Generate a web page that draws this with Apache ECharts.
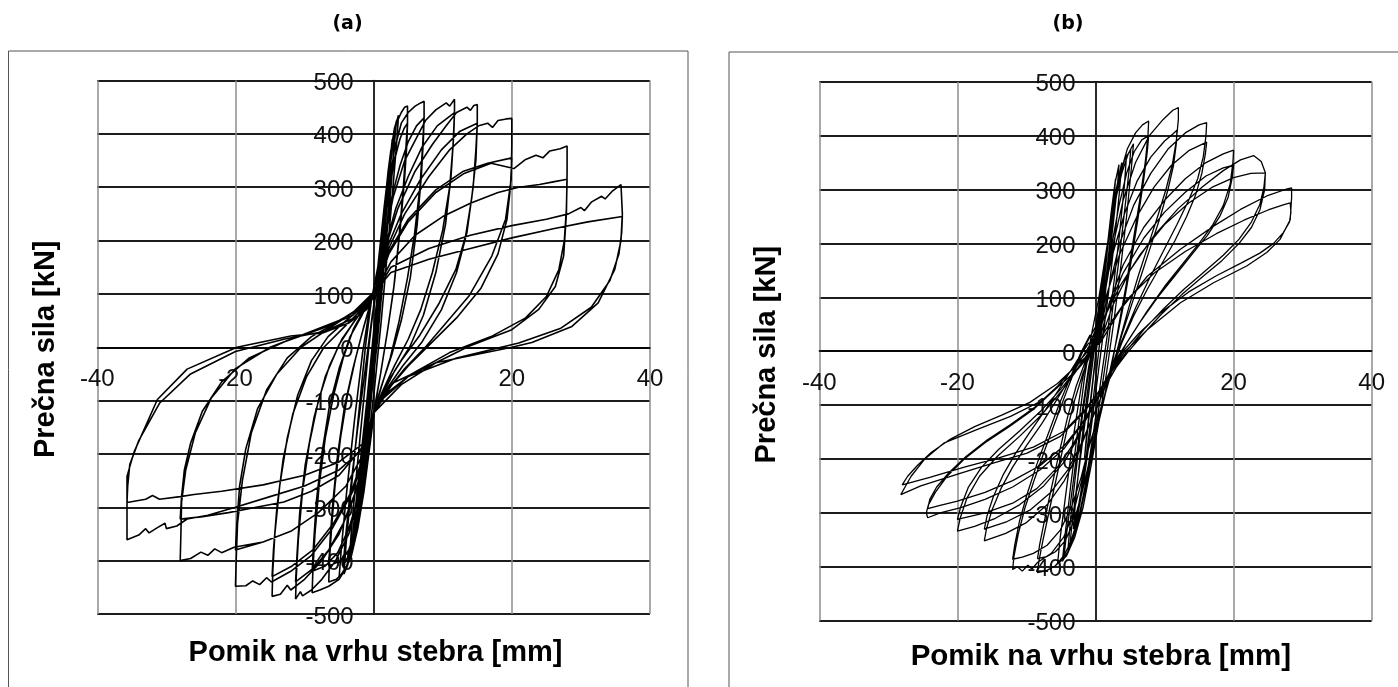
<!DOCTYPE html>
<html>
<head>
<meta charset="utf-8">
<style>html,body{margin:0;padding:0;background:#fff}#c{width:1398px;height:687px}</style>
<script src="https://cdn.jsdelivr.net/npm/echarts@6/dist/echarts.min.js"></script>
</head>
<body>
<div id="c"></div>
<script>
// Axis ranges and tick step (mm, kN)
const xRange = [-40, 40]; const xStep = 20;
const yRange = [-500, 500]; const yStep = 100;
const panelTitles = ['(a)', '(b)'];
const yName = 'Prečna sila [kN]';
const xName = 'Pomik na vrhu stebra [mm]';

// ---------- Panel (a), [displacement mm, force kN] ----------
const a_el = [[0,0],[0.4,60],[0.9,140],[1.3,200],[1.0,150],[0.3,50],[-0.3,-30],[-0.9,-110],[-1.5,-200],[-1.2,-160],[-0.5,-70],[0.1,20],[0.7,110],[1.3,200],[1.9,290],[1.6,240],[0.9,140],[0.2,40],[-0.5,-60],[-1.2,-150],[-2.0,-260],[-2.4,-300],[-2.0,-250],[-1.2,-150],[-0.4,-40],[0.3,60],[1.0,160],[1.7,260],[2.3,340],[2.7,390],[2.4,330],[1.6,220],[0.8,100],[0,-10],[-0.8,-120],[-1.6,-220],[-2.4,-310],[-3.0,-370],[-3.3,-390],[-2.8,-320],[-1.8,-200],[-0.9,-90],[0,30],[0.7,120],[1.5,230],[2.2,320],[2.8,385],[3.3,425],[3.0,380],[2.3,280],[1.5,170],[0.6,50],[-0.3,-70],[-1.2,-180],[-2.1,-280],[-3.0,-350],[-3.8,-395],[-4.4,-410],[-4.1,-360],[-3.3,-260],[-2.3,-150],[-1.2,-40],[-0.2,60],[0.6,120]];
const a_el2 = [[1.2,200],[1.7,280],[2.1,330],[2.5,370],[2.3,320],[1.7,230],[1.0,130],[0.2,10],[-0.6,-100],[-1.4,-200],[-2.1,-280],[-2.7,-340],[-3.2,-380],[-3.5,-395],[-3.2,-340],[-2.5,-240],[-1.6,-120],[-0.7,0],[0.2,100],[1.0,190],[1.8,290],[2.5,360],[3.0,405],[3.2,415],[2.9,360],[2.3,270],[1.5,150],[0.6,20],[-0.3,-90],[-1.2,-200],[-2.1,-300],[-3.0,-370],[-3.8,-410],[-4.3,-425],[-4.0,-370],[-3.2,-260],[-2.2,-130],[-1.2,0],[-0.3,90],[0.6,150],[1.5,260],[2.3,350],[3.0,410],[3.6,435],[3.4,395],[2.8,300],[2.0,180],[1.1,50],[0.1,-80],[-0.9,-190],[-1.9,-290],[-2.9,-360],[-3.9,-410],[-5.0,-432],[-4.7,-380],[-3.9,-270],[-2.8,-140],[-1.6,-10],[-0.5,80],[0.5,120]];
const a_05 = [[1.4,220],[2.2,320],[2.8,380],[3.3,420],[4.0,440],[4.5,450],[4.9,452],[4.9,420],[4.7,380],[4.3,300],[3.7,210],[2.9,110],[2.0,30],[1.0,-50],[0.2,-110],[-0.6,-190],[-1.4,-270],[-2.3,-340],[-3.2,-390],[-4.2,-420],[-5.4,-435],[-6.5,-440],[-6.4,-400],[-6.1,-340],[-5.6,-260],[-4.8,-170],[-3.8,-90],[-2.6,-20],[-1.4,40],[-0.3,90],[0.5,120],[1.3,200],[2.2,290],[3.0,350],[3.8,390],[4.4,410],[4.9,420],[4.8,380],[4.5,320],[3.9,230],[3.0,120],[2.0,30],[1.0,-50],[0.1,-115],[-0.8,-200],[-1.7,-280],[-2.6,-340],[-3.6,-380],[-4.8,-400],[-6.5,-410],[-6.3,-360],[-5.9,-290],[-5.2,-200],[-4.2,-110],[-3.0,-40],[-1.6,30],[-0.4,85],[0.5,115]];
const a_07 = [[1.3,200],[2.2,300],[3.0,370],[4.0,420],[5.0,440],[6.0,452],[6.8,458],[7.3,461],[7.3,430],[7.1,380],[6.7,300],[5.9,210],[4.9,130],[3.7,50],[2.4,-20],[1.1,-75],[0,-125],[-0.9,-210],[-1.8,-290],[-2.8,-360],[-3.8,-410],[-5.0,-435],[-6.5,-448],[-7.8,-455],[-8.9,-460],[-8.8,-420],[-8.5,-350],[-7.9,-260],[-7.0,-170],[-5.8,-90],[-4.4,-20],[-2.9,35],[-1.4,70],[0,100],[0.6,125],[1.5,200],[2.6,280],[3.8,340],[5.0,385],[6.2,415],[7.3,430],[7.2,390],[6.9,320],[6.3,230],[5.3,130],[4.0,50],[2.6,-15],[1.2,-70],[0,-120],[-1.0,-200],[-2.2,-280],[-3.6,-340],[-5.2,-385],[-7.0,-410],[-8.9,-420],[-8.7,-370],[-8.3,-290],[-7.5,-200],[-6.4,-110],[-5.0,-40],[-3.4,20],[-1.7,60],[-0.3,95],[0.6,120]];
const a_12 = [[1.6,200],[2.8,280],[4.5,350],[6.5,400],[7.5,425],[9.0,445],[10.5,458],[11.0,452],[11.7,465],[11.7,440],[11.5,380],[11.0,300],[10.0,220],[8.5,140],[6.8,70],[5.0,15],[3.0,-35],[1.2,-85],[0,-125],[-1.0,-200],[-2.2,-280],[-3.6,-350],[-5.5,-400],[-7.5,-435],[-9.0,-455],[-10.3,-466],[-10.6,-458],[-11.3,-472],[-11.2,-430],[-10.9,-360],[-10.3,-270],[-9.3,-180],[-8.0,-100],[-6.4,-35],[-4.6,15],[-2.7,50],[-1.0,80],[0.5,115],[1.7,190],[3.2,260],[5.0,320],[7.0,375],[9.2,415],[11.7,440],[11.6,400],[11.2,320],[10.4,230],[9.0,140],[7.2,60],[5.2,0],[3.0,-45],[1.2,-90],[0,-125],[-1.2,-200],[-2.6,-270],[-4.4,-330],[-6.5,-380],[-8.8,-415],[-11.3,-440],[-11.1,-390],[-10.7,-310],[-9.9,-220],[-8.6,-130],[-7.0,-55],[-5.0,5],[-3.0,45],[-1.1,80],[0.5,115]];
const a_15 = [[1.8,190],[3.5,260],[6.0,330],[8.5,380],[10.5,415],[12.0,440],[13.5,450],[14.0,444],[14.5,453],[15.0,455],[15.0,420],[14.8,350],[14.2,280],[13.3,208],[11.9,146],[9.5,83],[6.6,21],[4.0,-25],[1.8,-70],[0,-125],[-1.2,-200],[-2.8,-280],[-5.0,-350],[-7.5,-400],[-10.0,-435],[-12.0,-455],[-12.5,-446],[-13.5,-463],[-14.7,-467],[-14.6,-420],[-14.3,-350],[-13.6,-260],[-12.5,-170],[-11.0,-90],[-9.0,-25],[-6.6,20],[-4.0,50],[-1.6,75],[0.5,112],[1.9,185],[4.0,250],[6.8,315],[9.8,370],[12.5,405],[15.0,420],[14.8,370],[14.4,300],[13.5,215],[12.0,140],[9.8,70],[7.0,10],[4.2,-35],[1.8,-80],[0,-125],[-1.4,-200],[-3.2,-270],[-5.8,-330],[-8.8,-380],[-11.8,-410],[-14.7,-430],[-14.5,-380],[-14.0,-300],[-13.1,-210],[-11.7,-125],[-9.7,-55],[-7.2,0],[-4.5,35],[-1.8,70],[0.5,110]];
const a_20 = [[2.0,180],[4.5,250],[8,320],[11,370],[13.5,400],[15.2,415],[16.5,420],[17.2,412],[18,425],[19.2,428],[20,429],[20,380],[19.9,314],[19.1,240],[17.1,171],[13.8,96],[10.5,46],[7.6,2],[4.5,-40],[2.0,-80],[0,-123],[-1.3,-200],[-3,-270],[-6,-340],[-9,-390],[-12,-420],[-14.8,-440],[-15.5,-432],[-16.5,-445],[-17.5,-438],[-18.5,-447],[-20,-448],[-19.9,-400],[-19.7,-330],[-19.0,-250],[-17.7,-160],[-15.5,-80],[-12.5,-20],[-9.0,20],[-5.5,45],[-2.5,70],[0.4,108],[2.0,175],[5,240],[9,295],[13,330],[16.5,345],[20,355],[19.8,300],[19.3,240],[18.0,175],[15.5,110],[12.0,55],[8.5,10],[5.0,-35],[2.0,-80],[0,-123],[-1.5,-200],[-4,-260],[-8,-310],[-12,-345],[-16,-365],[-20,-380],[-19.8,-330],[-19.4,-260],[-18.5,-190],[-16.8,-115],[-14.0,-50],[-10.5,0],[-6.5,35],[-3.0,65],[0.4,108]];
const a_28 = [[2.2,175],[5,235],[9,290],[13,325],[17,345],[20.3,335],[22,352],[23.5,360],[24.5,355],[25.5,368],[27,372],[28,377],[28,330],[27.9,250],[27.5,171],[26.3,114],[23.9,71],[20,33],[13.8,2],[9,-29],[4,-70],[0,-123],[-1.5,-200],[-4,-260],[-8,-310],[-12,-345],[-16,-365],[-20.2,-375],[-22,-385],[-23,-378],[-24,-390],[-25,-384],[-26.5,-396],[-28,-400],[-27.9,-350],[-27.8,-290],[-27.2,-230],[-25.8,-160],[-23.5,-95],[-20,-40],[-15,0],[-10,25],[-5,50],[-1.5,75],[0.4,108],[2.5,160],[6,210],[10,245],[14,270],[18,290],[21,300],[24,305],[26,310],[28,315],[27.9,260],[27.6,200],[26.8,145],[25,95],[22,55],[17,20],[11,-10],[5.5,-50],[2,-85],[0,-123],[-1.8,-190],[-5,-240],[-9,-270],[-13,-290],[-17,-300],[-21,-310],[-25,-318],[-28,-322],[-27.8,-280],[-27.4,-230],[-26.5,-180],[-24.8,-120],[-22,-65],[-18,-20],[-13,10],[-7.5,35],[-3,60],[0.4,105]];
const a_36 = [[2.5,150],[8,185],[14,210],[20,228],[25,240],[28.2,250],[30,262],[30.5,256],[31.5,272],[33,283],[33.5,278],[34.5,292],[35.8,305],[36,250],[35.8,200],[34.9,146],[32.5,83],[28.7,39],[22.9,9],[20,0],[9,-29],[2.8,-67],[0,-123],[-1.5,-190],[-5,-230],[-10,-260],[-15,-280],[-20,-300],[-24,-315],[-27,-322],[-28.5,-335],[-30,-340],[-30.2,-330],[-31.3,-338],[-32.5,-348],[-33,-340],[-34,-352],[-35.7,-361],[-35.7,-300],[-35.7,-242],[-34.7,-197],[-31.3,-98],[-27,-41],[-19.8,0],[-12,21],[-7.3,27],[-3.5,46],[-1,71],[0.4,108],[2.5,140],[8,165],[14,185],[20,205],[26,222],[31,235],[36,245],[35.9,215],[35.5,175],[34.2,125],[31.5,75],[27,35],[21,8],[12,-20],[5,-55],[1,-100],[0,-123],[-1.5,-180],[-5,-215],[-10,-240],[-16,-258],[-22,-270],[-26,-276],[-28,-280],[-31,-285],[-32,-278],[-33,-285],[-35.7,-291],[-35.6,-260],[-35.3,-220],[-34,-175],[-31,-105],[-26.5,-50],[-20,-8],[-13,15],[-7,30],[-2,60],[0.4,100]];

// ---------- Panel (b) ----------
const b_el = [[0,0],[0.6,60],[1.2,130],[1.8,200],[1.6,170],[1.0,100],[0.3,20],[-0.4,-60],[-1.0,-130],[-1.6,-200],[-1.4,-170],[-0.8,-100],[-0.1,-20],[0.6,70],[1.4,160],[2.2,250],[2.8,310],[3.4,346],[3.2,310],[2.6,240],[1.8,150],[1.0,60],[0.2,-30],[-0.6,-120],[-1.4,-200],[-2.2,-270],[-3.0,-330],[-3.7,-360],[-3.4,-320],[-2.7,-250],[-1.9,-170],[-1.0,-80],[-0.2,0],[0.7,90],[1.6,180],[2.5,260],[3.4,320],[4.2,355],[5.1,374],[4.9,340],[4.3,270],[3.5,180],[2.6,90],[1.7,0],[0.8,-80],[-0.2,-160],[-1.2,-240],[-2.2,-300],[-3.2,-345],[-4.0,-372],[-4.6,-386],[-4.3,-350],[-3.6,-280],[-2.8,-200],[-1.9,-110],[-1.0,-30],[-0.1,30],[0.5,60]];
const b_el2 = [[1.2,120],[1.9,210],[2.5,280],[2.9,320],[2.6,270],[1.9,180],[1.1,80],[0.3,-20],[-0.5,-110],[-1.3,-190],[-2.1,-260],[-2.7,-305],[-3.2,-330],[-2.9,-280],[-2.2,-190],[-1.4,-100],[-0.5,-10],[0.4,70],[1.3,160],[2.2,240],[3.0,300],[3.8,350],[3.5,300],[2.8,210],[1.9,110],[1.0,20],[0.1,-70],[-0.8,-160],[-1.8,-250],[-2.8,-320],[-3.6,-355],[-4.0,-370],[-3.6,-310],[-2.8,-220],[-1.9,-120],[-0.9,-30],[0.1,50],[1.1,140],[2.1,230],[3.1,300],[3.9,345],[4.5,365],[4.2,310],[3.5,220],[2.6,120],[1.6,20],[0.6,-70],[-0.4,-160],[-1.5,-250],[-2.6,-320],[-3.7,-365],[-4.8,-390],[-4.4,-340],[-3.6,-250],[-2.6,-150],[-1.6,-50],[-0.6,30],[0.5,100],[1.6,190],[2.7,270],[3.8,330],[4.7,365],[5.5,385],[5.2,340],[4.5,250],[3.6,150],[2.6,50],[1.6,-40],[0.5,-130],[-0.6,-210],[-1.8,-290],[-3.0,-345],[-4.2,-380],[-5.5,-395],[-5.1,-345],[-4.2,-255],[-3.1,-150],[-2.0,-60],[-0.9,10],[0,40]];
const b_08 = [[1.2,100],[2.0,190],[2.8,270],[3.6,330],[4.6,375],[5.8,405],[6.8,420],[7.7,427],[7.6,400],[7.2,350],[6.4,280],[5.4,200],[4.4,120],[3.4,50],[2.6,-10],[1.6,-70],[0.5,-130],[-0.5,-190],[-1.4,-250],[-2.3,-300],[-3.3,-345],[-4.5,-378],[-5.8,-398],[-7.1,-407],[-8.4,-411],[-8.2,-390],[-7.6,-350],[-6.6,-290],[-5.4,-220],[-4.2,-150],[-3.0,-90],[-1.8,-40],[-0.6,0],[0.4,40],[1.4,120],[2.4,200],[3.4,270],[4.5,330],[5.6,370],[6.7,392],[7.7,400],[7.5,370],[7.0,320],[6.2,250],[5.2,170],[4.2,95],[3.2,30],[2.2,-30],[1.1,-95],[0,-150],[-1.0,-210],[-2.0,-265],[-3.1,-315],[-4.4,-352],[-5.8,-372],[-7.1,-381],[-8.4,-385],[-8.1,-360],[-7.4,-315],[-6.4,-255],[-5.2,-185],[-4.0,-120],[-2.8,-65],[-1.5,-20],[-0.3,15]];
const b_12 = [[0.4,20],[1.4,110],[2.6,200],[4,280],[5.8,350],[7.8,400],[9.8,430],[11.2,447],[12,452],[12,430],[11.7,390],[11.1,345],[10.2,300],[9,250],[7.6,195],[6.2,140],[4.8,80],[3.5,20],[2.5,-30],[1.4,-80],[0.2,-130],[-1,-180],[-2,-240],[-3.2,-300],[-4.6,-345],[-6.4,-375],[-8.4,-392],[-9.2,-404],[-9.8,-397],[-10.6,-408],[-11.3,-400],[-12,-405],[-11.8,-380],[-11.2,-340],[-10.2,-290],[-8.9,-240],[-7.4,-185],[-5.8,-130],[-4.2,-75],[-2.7,-25],[-1.3,15],[0,45],[1.2,110],[2.6,185],[4.2,255],[6.0,315],[8.0,360],[10.0,390],[11.2,403],[11.8,410],[11.7,385],[11.3,345],[10.5,300],[9.4,250],[8.0,195],[6.6,140],[5.2,85],[3.8,30],[2.7,-20],[1.5,-75],[0.3,-125],[-0.9,-175],[-2.1,-235],[-3.5,-290],[-5.1,-332],[-7.0,-360],[-9.0,-375],[-10.6,-382],[-12,-386],[-11.7,-360],[-11.0,-315],[-9.9,-265],[-8.5,-210],[-6.9,-155],[-5.3,-100],[-3.7,-50],[-2.2,-5],[-0.8,30]];
const b_16 = [[0.5,20],[1.8,110],[3.5,200],[5.5,270],[8,330],[10.5,375],[13,405],[15,420],[16.1,424],[16,400],[15.6,360],[14.8,320],[13.5,280],[11.8,235],[9.8,185],[7.8,135],[5.8,80],[4,25],[3,-5],[1.8,-50],[0.4,-100],[-1,-140],[-2.5,-190],[-4.5,-240],[-7,-285],[-10,-318],[-13,-338],[-16.1,-352],[-15.8,-330],[-15.0,-295],[-13.7,-255],[-12.0,-215],[-10.0,-175],[-7.8,-135],[-5.6,-90],[-3.5,-45],[-1.6,-5],[-0.2,25],[1.5,100],[3.5,180],[6,250],[8.5,305],[11,345],[13.5,372],[16.1,388],[15.9,365],[15.4,330],[14.5,290],[13.2,250],[11.5,205],[9.5,160],[7.5,115],[5.5,65],[3.8,15],[2.5,-30],[1.0,-80],[-0.5,-125],[-2,-170],[-4,-220],[-6.5,-262],[-9.5,-295],[-12.8,-316],[-16.1,-330],[-15.7,-305],[-14.8,-270],[-13.4,-230],[-11.6,-190],[-9.5,-150],[-7.2,-108],[-5,-65],[-2.8,-20],[-1,15]];
const b_20 = [[0.5,15],[2,90],[4,160],[7,230],[10,280],[13,320],[16,350],[18.5,366],[20,373],[19.9,350],[19.5,310],[18.5,270],[17,235],[15,200],[12.5,160],[10,120],[7.5,75],[5,25],[3.5,-5],[2,-40],[0.5,-80],[-1,-115],[-2.5,-160],[-4.5,-205],[-7.5,-250],[-11,-285],[-14.5,-310],[-17.5,-325],[-20,-334],[-19.6,-310],[-18.6,-272],[-16.8,-232],[-14.2,-195],[-11,-158],[-7.8,-118],[-4.8,-72],[-2.3,-28],[-0.5,5],[1.5,70],[4,145],[7,210],[10,258],[13,295],[16,325],[18.5,340],[20,345],[19.8,322],[19.2,285],[18,250],[16.2,215],[14,180],[11.5,140],[9,100],[6.5,55],[4.5,15],[3,-20],[1.5,-55],[0,-95],[-1.5,-130],[-3.2,-172],[-5.5,-215],[-8.5,-255],[-12,-282],[-16,-300],[-20,-312],[-19.5,-288],[-18.4,-252],[-16.5,-215],[-14,-182],[-11,-148],[-8,-112],[-5,-70],[-2.5,-30],[-0.6,5]];
const b_24 = [[0.6,15],[2.5,85],[5,150],[8.5,215],[12,265],[15.5,305],[18.5,335],[21,355],[22.9,363],[24,352],[24.6,331],[24.5,300],[23.8,262],[22.6,230],[20.8,200],[18.3,168],[15.5,138],[12.5,105],[9.5,68],[6.8,30],[4.6,-3],[3,-30],[1.2,-70],[-0.5,-105],[-2.2,-140],[-4.5,-180],[-8,-220],[-12,-252],[-16,-275],[-19.5,-290],[-22.5,-300],[-24.3,-309],[-24.5,-300],[-24.2,-285],[-23.2,-262],[-21.5,-232],[-19,-200],[-16,-170],[-12.5,-140],[-9,-108],[-5.8,-70],[-3,-28],[-0.8,5],[1,55],[3.5,120],[6.5,180],[10,235],[13.5,275],[17,305],[20,322],[22.5,330],[24.6,331],[24.4,305],[23.8,272],[22.6,240],[20.8,208],[18.5,178],[15.8,148],[12.8,115],[9.8,78],[7,40],[4.8,5],[3.2,-25],[1.4,-65],[-0.4,-100],[-2,-135],[-4.5,-175],[-8,-212],[-12,-240],[-16,-262],[-20,-278],[-22.5,-286],[-24.3,-292],[-24,-275],[-23,-252],[-21.2,-225],[-18.7,-195],[-15.7,-165],[-12.3,-136],[-8.8,-104],[-5.5,-65],[-2.8,-25],[-0.6,8]];
const b_28 = [[0.7,16],[3.6,77],[7.5,139],[12.3,189],[17.1,232],[21,263],[24.8,288],[27.5,300],[28.4,303],[28.4,285],[28.2,244],[26.7,207],[24.8,183],[21.9,158],[17.1,127],[12.3,90],[7.5,40],[4.1,-3],[2.0,-45],[0,-85],[-1.7,-114],[-5.1,-158],[-9.9,-189],[-14.7,-207],[-19.5,-226],[-25.3,-250],[-28.2,-266],[-27.5,-250],[-26.7,-232],[-24.8,-201],[-21.9,-170],[-17.1,-145],[-12.3,-121],[-7.5,-90],[-2.6,-34],[-0.2,3],[1.5,40],[4.5,95],[8.5,145],[13,185],[17.5,218],[21.5,243],[25,262],[27.3,272],[28.2,275],[28.3,258],[28.1,240],[27.2,220],[25.8,200],[23.8,182],[21,163],[17.5,140],[13.5,110],[9.5,72],[6.2,32],[4,0],[2.2,-38],[0.3,-78],[-1.5,-108],[-4.5,-148],[-9,-178],[-14,-198],[-19,-215],[-24,-234],[-28,-248],[-27.2,-232],[-25.8,-212],[-23.8,-188],[-21,-163],[-17.5,-140],[-13.5,-118],[-9.5,-95],[-5.5,-60],[-2.2,-20],[0,5]];

const historyA = [].concat(a_el, a_el2, a_05, a_07, a_12, a_15, a_20, a_28, a_36);
const historyB = [].concat(b_el, b_el2, b_08, b_12, b_16, b_20, b_24, b_28);

const chart = echarts.init(document.getElementById('c'), null, {renderer: 'canvas'});
const FONT = '"Liberation Sans", Arial, sans-serif';
const grids = [
  {left: 97.3, top: 80.5, width: 552.7, height: 533.5},
  {left: 819.3, top: 81.7, width: 552.4, height: 539}
];

// Axes drawn through the origin (labels follow the axis lines)
function xAxisCfg(i) {
  return {
    type: 'value', gridIndex: i, min: xRange[0], max: xRange[1], interval: xStep,
    position: 'bottom', offset: -grids[i].height / 2,
    axisLine: {onZero: false, lineStyle: {color: '#000', width: 1.5}},
    axisTick: {show: false},
    axisLabel: {fontSize: 24, fontFamily: FONT, color: '#111', margin: 20,
      showMinLabel: true, showMaxLabel: true, hideOverlap: false,
      formatter: v => (v === 0 ? '' : String(v))},
    splitLine: {show: true, lineStyle: {color: '#8c8c8c', width: 1.5}}
  };
}
function yAxisCfg(i) {
  return {
    type: 'value', gridIndex: i, min: yRange[0], max: yRange[1], interval: yStep,
    position: 'left', offset: -grids[i].width / 2,
    axisLine: {onZero: false, lineStyle: {color: '#000', width: 1.5}},
    axisTick: {show: false},
    axisLabel: {margin: 20, showMinLabel: true, showMaxLabel: true, hideOverlap: false,
      formatter: v => '{v|' + v + '}',
      rich: {v: {fontSize: 24, fontFamily: FONT, color: '#111', padding: [6, 0, 0, 0]}}},
    splitLine: {show: true, lineStyle: {color: '#1c1c1c', width: 2}}
  };
}
function txt(x, y, s, font, rot) {
  return {type: 'text', x: x, y: y, rotation: rot || 0, z: 100,
    style: {text: s, font: font, fill: '#000', align: 'center', verticalAlign: 'middle'}};
}

chart.setOption({
  backgroundColor: '#fff',
  animation: false,
  grid: grids,
  xAxis: [xAxisCfg(0), xAxisCfg(1)],
  yAxis: [yAxisCfg(0), yAxisCfg(1)],
  series: [
    {type: 'line', xAxisIndex: 0, yAxisIndex: 0, data: historyA, symbol: 'none', smooth: false,
      lineStyle: {color: '#000', width: 1.6}},
    {type: 'line', xAxisIndex: 1, yAxisIndex: 1, data: historyB, symbol: 'none', smooth: false,
      lineStyle: {color: '#000', width: 1.3}}
  ],
  graphic: [
    {type: 'rect', shape: {x: 8.5, y: 51, width: 679.5, height: 700}, style: {fill: 'none', stroke: '#555', lineWidth: 1}},
    {type: 'rect', shape: {x: 729, y: 52, width: 700, height: 700}, style: {fill: 'none', stroke: '#555', lineWidth: 1}},
    txt(347.5, 24, panelTitles[0], 'bold 19px "DejaVu Sans", sans-serif'),
    txt(1068, 24, panelTitles[1], 'bold 19px "DejaVu Sans", sans-serif'),
    txt(45.6, 349.3, yName, 'bold 29px ' + FONT, Math.PI / 2),
    txt(375.5, 653, xName, 'bold 29px ' + FONT),
    txt(766.7, 354.7, yName, 'bold 29px ' + FONT, Math.PI / 2),
    txt(1100.8, 657, xName, 'bold 29.5px ' + FONT)
  ]
});
</script>
</body>
</html>
